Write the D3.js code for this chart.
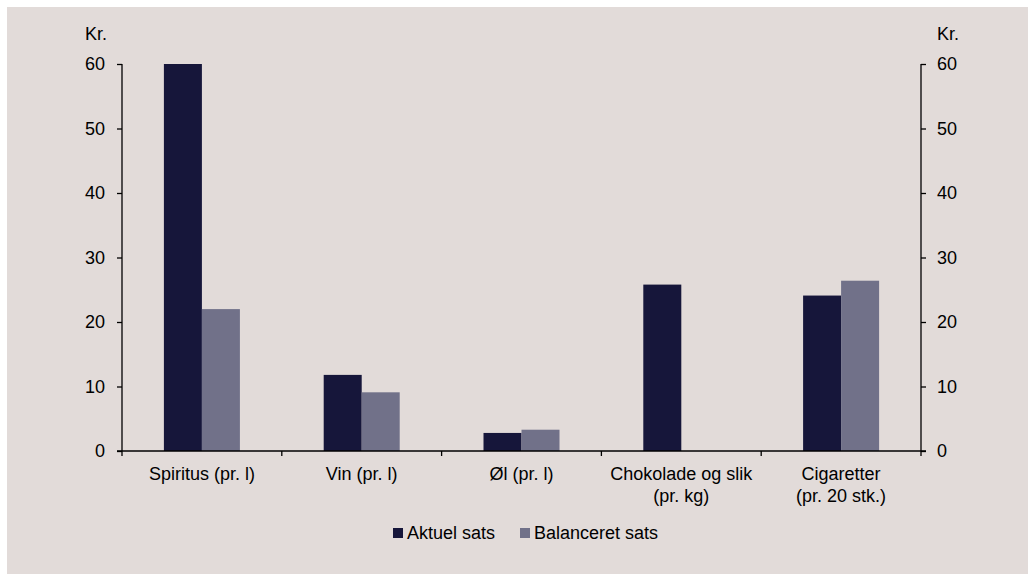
<!DOCTYPE html>
<html>
<head>
<meta charset="utf-8">
<script src="https://cdn.jsdelivr.net/npm/d3@7"></script>
<style>
  html, body { margin: 0; padding: 0; background: #ffffff; }
  svg { display: block; }
  text { font-family: "Liberation Sans", Arial, sans-serif; fill: #000; }
</style>
</head>
<body>
<svg id="chart" width="1028" height="574"></svg>
<script>
// Afgiftssatser: aktuel og balanceret sats pr. vare (kr.)
const categories = [
  ["Spiritus (pr. l)"],
  ["Vin (pr. l)"],
  ["Øl (pr. l)"],
  ["Chokolade og slik", "(pr. kg)"],
  ["Cigaretter", "(pr. 20 stk.)"]
];
const seriesNames = ["Aktuel sats", "Balanceret sats"];
const aktuelSats = [60, 11.8, 2.8, 25.8, 24.1];
const balanceretSats = [22.0, 9.1, 3.3, null, 26.4];
const yTicks = [0, 10, 20, 30, 40, 50, 60];
const colors = ["#16163a", "#717189"];
const fontSize = "18px";

const svg = d3.select("#chart");
svg.append("rect").attr("x", 7).attr("y", 7).attr("width", 1021).attr("height", 567)
  .attr("fill", "#e2dbd9");

const plotLeft = 122, plotRight = 921, plotTop = 64, plotBottom = 451;
const x = d3.scaleBand().domain(d3.range(categories.length)).range([plotLeft, plotRight]).paddingInner(0).paddingOuter(0);
const y = d3.scaleLinear().domain([0, 60]).range([plotBottom, plotTop]);
const groupWidth = 76;
const xs = d3.scaleBand().domain([0, 1]).range([0, groupWidth]);

const series = [aktuelSats, balanceretSats];
series.forEach((vals, si) => {
  svg.append("g").selectAll("rect")
    .data(vals.map((v, i) => ({ v, i })).filter(d => d.v != null))
    .join("rect")
    .attr("x", d => x(d.i) + (x.bandwidth() - groupWidth) / 2 + xs(si))
    .attr("y", d => y(d.v))
    .attr("width", xs.bandwidth())
    .attr("height", d => y(0) - y(d.v))
    .attr("fill", colors[si]);
});

// Y axes (same scale on both sides)
const yLeft = d3.axisLeft(y).tickValues(yTicks).tickSize(5).tickPadding(12);
const yRight = d3.axisRight(y).tickValues(yTicks).tickSize(5).tickPadding(11);
const gl = svg.append("g").attr("transform", `translate(${plotLeft},0)`).call(yLeft);
const gr = svg.append("g").attr("transform", `translate(${plotRight},0)`).call(yRight);
[gl, gr].forEach(g => {
  g.select(".domain").attr("stroke", "#000").attr("stroke-width", 1.3).attr("d", `M0,${plotTop}V${plotBottom}`);
  g.selectAll(".tick line").attr("stroke", "#000").attr("stroke-width", 1.3);
  g.selectAll(".tick text").style("font-family", "Liberation Sans, Arial, sans-serif")
    .style("font-size", fontSize).attr("fill", "#000");
});

// X axis with ticks between categories
const xAxis = svg.append("g").attr("transform", `translate(0,${plotBottom})`);
xAxis.append("line").attr("x1", plotLeft - 5).attr("x2", plotRight + 5).attr("y1", 0).attr("y2", 0)
  .attr("stroke", "#000").attr("stroke-width", 1.6);
const bounds = d3.range(categories.length + 1).map(i => i < categories.length ? x(i) : plotRight);
xAxis.selectAll("line.tk").data(bounds).join("line").attr("class", "tk")
  .attr("x1", d => d).attr("x2", d => d).attr("y1", 0).attr("y2", 5)
  .attr("stroke", "#000").attr("stroke-width", 1.3);
const lbl = xAxis.selectAll("text.cat").data(categories).join("text").attr("class", "cat")
  .attr("text-anchor", "middle").style("font-size", fontSize)
  .attr("transform", (d, i) => `translate(${x(i) + x.bandwidth() / 2},29)`);
lbl.selectAll("tspan").data(d => d).join("tspan")
  .attr("x", 0).attr("dy", (d, j) => j === 0 ? 0 : 22).text(d => d);

// Unit labels
svg.append("text").attr("x", 85).attr("y", 40).style("font-size", fontSize).text("Kr.");
svg.append("text").attr("x", 937).attr("y", 40).style("font-size", fontSize).text("Kr.");

// Legend
const legend = svg.append("g").attr("transform", "translate(393,533)");
const legendX = [0, 127];
seriesNames.forEach((name, i) => {
  const g = legend.append("g").attr("transform", `translate(${legendX[i]},0)`);
  g.append("rect").attr("x", 0).attr("y", -5).attr("width", 10).attr("height", 10).attr("fill", colors[i]);
  g.append("text").attr("x", 14).attr("y", 6).style("font-size", fontSize).text(name);
});
</script>
</body>
</html>
